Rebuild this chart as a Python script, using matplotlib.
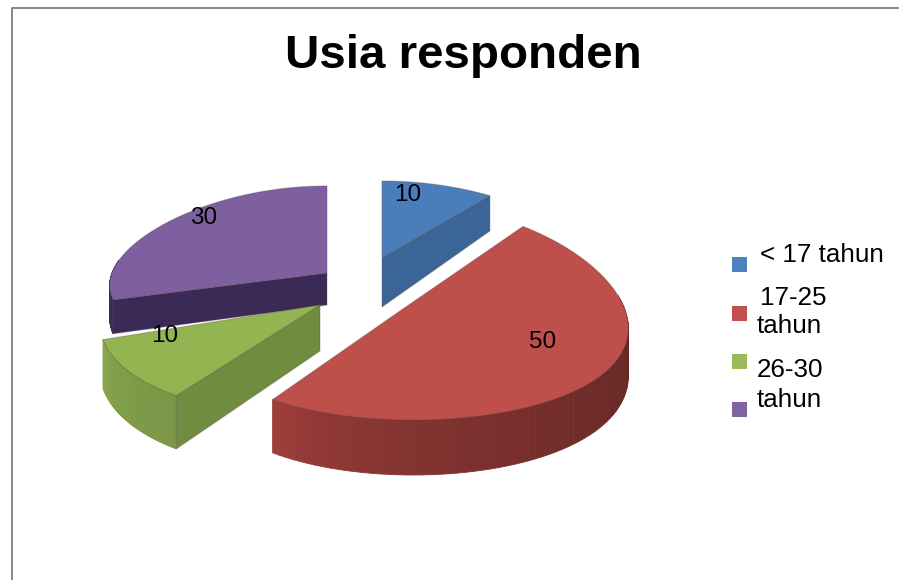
import numpy as np
import matplotlib
matplotlib.use('Agg')
from matplotlib import pyplot as plt
from matplotlib.colors import to_rgb
from matplotlib.patches import Polygon, Rectangle

# datos de la grafica
values = [10, 50, 10, 30]
top_colors = ['#4A7EBB', '#BE4F4B', '#93B551', '#7E5FA0']
swatch_colors = ['#4F81BD', '#C0504D', '#9BBB59', '#8064A2']
legend_lines = ['< 17 tahun', '17-25', 'tahun', '26-30', 'tahun']

# geometria de cada porcion (explotada): centro, vertice, radios, profundidad
centers = [(382, 258), (413, 313), (320, 305), (327, 273)]
apexes = [(382, 258), (397, 313), (320, 305), (327, 273)]
radii = [(209, 77), (213, 107), (218, 112), (215, 87)]
depths = [49, 46, 46, 32]
depth_slopes = [17, 9, 9, 6]
cut_colors = ['#3B6596', None, '#6F8C3F', '#3A2A55']
rim_from = ['#3B6596', '#A8423E', '#8CAB50', '#3A2A55']
rim_to = ['#3B6596', '#562220', '#7A9646', '#3A2A55']
label_pos = [(408, 195), (543, 342), (165, 336), (204, 218)]
PERSP = 0.15

plt.rcParams['font.family'] = ['Liberation Sans', 'DejaVu Sans']

fig = plt.figure(figsize=(8.99, 5.80), dpi=100)
ax = fig.add_axes([0, 0, 1, 1])
ax.set_xlim(0, 899)
ax.set_ylim(580, 0)
ax.axis('off')

# marco
ax.plot([12, 12, 899], [580, 8, 8], color='#7F7F7F', lw=1.3)

edges = np.cumsum([0] + values) / sum(values) * 2 * np.pi


def rim(i, th):
    cx, cy = centers[i]
    rx, ry = radii[i]
    u, v = np.sin(th), np.cos(th)
    return cx + rx * u * (1 - PERSP * v), cy - ry * v


def depth(i, v):
    return depths[i] - depth_slopes[i] * v


def draw_slice(i):
    a, b = edges[i], edges[i + 1]
    th = np.linspace(a, b, 90)
    x, y = rim(i, th)
    cx, cy = apexes[i]
    # pared exterior, con degradado
    front = np.cos(th) < 0.15
    c0, c1 = np.array(to_rgb(rim_from[i])), np.array(to_rgb(rim_to[i]))
    for k in range(len(th) - 1):
        if not (front[k] or front[k + 1]):
            continue
        d0, d1 = depth(i, np.cos(th[k])), depth(i, np.cos(th[k + 1]))
        t = (1 - (th[k] - a) / (b - a)) ** 0.5
        col = c0 + (c1 - c0) * t
        ax.add_patch(Polygon([(x[k], y[k]), (x[k + 1], y[k + 1]),
                              (x[k + 1], y[k + 1] + d1), (x[k], y[k] + d0)],
                             fc=col, ec=col, lw=0.6, zorder=2))
    # cara del corte
    if cut_colors[i] is not None:
        cut = b if i == 0 else a
        px, py = rim(i, cut)
        d_rim, d_c = depth(i, np.cos(cut)), depth(i, 0)
        ax.add_patch(Polygon([(cx, cy), (px, py), (px, py + d_rim), (cx, cy + d_c)],
                             fc=cut_colors[i], ec='#55555555', lw=0.8, zorder=2))
    # cara superior
    ax.add_patch(Polygon(np.r_[[(cx, cy)], np.c_[x, y]], fc=top_colors[i],
                         ec='#55404055', lw=0.8, zorder=2))


for i in (3, 2, 0, 1):
    draw_slice(i)

for val, (px, py) in zip(values, label_pos):
    ax.text(px, py, str(val), fontsize=17.5, ha='center', va='center', color='black', zorder=5)

# titulo
ax.text(463, 68, 'Usia responden', fontsize=34.2, fontweight='bold', ha='center',
        va='baseline', color='black')

# leyenda
for col, y in zip(swatch_colors, [257, 306, 354, 402]):
    ax.add_patch(Rectangle((732, y), 15, 15, fc=col, ec='none'))
for txt, x, y in zip(legend_lines, [760, 760, 757, 757, 757], [262, 305, 333, 377, 407]):
    ax.text(x, y, txt, fontsize=18.7, ha='left', va='baseline', color='black')

fig.savefig('out.png', dpi=100)
